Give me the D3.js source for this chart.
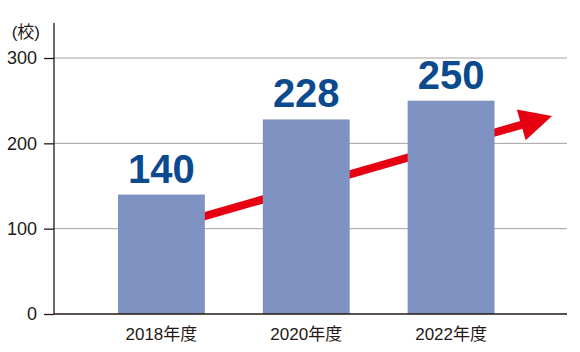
<!DOCTYPE html>
<html>
<head>
<meta charset="utf-8">
<script src="https://cdn.jsdelivr.net/npm/d3@7"></script>
<style>
  body { margin: 0; background: #fff; }
  text { font-family: "Liberation Sans", Arial, "Noto Sans CJK JP", sans-serif; }
</style>
</head>
<body>
<div id="chart"></div>
<script>
// data
var categories = ["2018年度", "2020年度", "2022年度"];
var values = [140, 228, 250];
var yTicks = [0, 100, 200, 300];
var unitLabel = "(校)";
// trend arrow, in data terms: starts at first category at value 100, ends at 232
var arrowStartValue = 100;
var arrowEndValue = 232;

function init() {
    var w = 580, h = 352;
    var left = 54, right = 567, top = 58, bottom = 314;

    var svg = d3.select("#chart")
                .append("svg")
                .attr("width", w)
                .attr("height", h);

    var xScale = d3.scaleBand()
                    .domain(categories)
                    .range([89, 523.5])
                    .paddingInner(0.4)
                    .paddingOuter(0.2);

    var yScale = d3.scaleLinear()
                    .domain([0, 300])
                    .range([bottom, top]);

    // gridlines
    svg.selectAll("line.grid")
        .data(yTicks.filter(function(d) { return d > 0; }))
        .enter()
        .append("line")
        .attr("class", "grid")
        .attr("x1", left)
        .attr("x2", right)
        .attr("y1", function(d) { return yScale(d); })
        .attr("y2", function(d) { return yScale(d); })
        .attr("stroke", "#a0a0a0")
        .attr("stroke-width", 1);

    // red trend arrow (behind the bars)
    var x0 = xScale(categories[0]) + xScale.bandwidth() / 2;
    var y0 = yScale(arrowStartValue);
    var x1 = right - 15;
    var y1 = yScale(arrowEndValue);
    var ang = Math.atan2(y1 - y0, x1 - x0);
    var headLen = 32, headHalf = 16;
    var ux = Math.cos(ang), uy = Math.sin(ang);
    var bx = x1 - headLen * ux, by = y1 - headLen * uy;

    svg.append("line")
        .attr("x1", x0).attr("y1", y0)
        .attr("x2", bx + 2 * ux).attr("y2", by + 2 * uy)
        .attr("stroke", "#e60012")
        .attr("stroke-width", 8);

    svg.append("polygon")
        .attr("points", [
            [x1, y1],
            [bx - headHalf * uy, by + headHalf * ux],
            [bx + headHalf * uy, by - headHalf * ux]
        ].map(function(p) { return p.join(","); }).join(" "))
        .attr("fill", "#e60012");

    // bars
    svg.selectAll("rect.bar")
        .data(values)
        .enter()
        .append("rect")
        .attr("class", "bar")
        .attr("x", function(d, i) { return xScale(categories[i]); })
        .attr("y", function(d) { return yScale(d); })
        .attr("width", xScale.bandwidth())
        .attr("height", function(d) { return yScale(0) - yScale(d); })
        .attr("fill", "#7f93c2");

    // value labels
    svg.selectAll("text.val")
        .data(values)
        .enter()
        .append("text")
        .attr("class", "val")
        .attr("x", function(d, i) { return xScale(categories[i]) + xScale.bandwidth() / 2; })
        .attr("y", function(d) { return yScale(d) - 12; })
        .attr("text-anchor", "middle")
        .attr("font-size", 40)
        .attr("font-weight", "bold")
        .attr("fill", "#0b4a8f")
        .text(function(d) { return d; });

    // y axis
    var yAxis = d3.axisLeft(yScale)
                    .tickValues(yTicks)
                    .tickSize(10)
                    .tickPadding(7);

    var gy = svg.append("g")
        .attr("transform", "translate(" + left + ",0)")
        .call(yAxis);
    gy.select(".domain").remove();
    gy.selectAll(".tick line").attr("stroke", "#231815").attr("stroke-width", 1.3);
    gy.selectAll(".tick text")
        .attr("font-size", 18)
        .attr("fill", "#231815")
        .attr("font-family", "Liberation Sans, Arial, sans-serif");

    svg.append("line")
        .attr("x1", left).attr("x2", left)
        .attr("y1", 23).attr("y2", bottom)
        .attr("stroke", "#231815")
        .attr("stroke-width", 1.3);

    // x axis
    var xAxis = d3.axisBottom(xScale).tickSize(0).tickPadding(14);
    var gx = svg.append("g")
        .attr("transform", "translate(0," + bottom + ")")
        .call(xAxis);
    gx.select(".domain").remove();
    gx.selectAll(".tick text")
        .attr("font-size", 17)
        .attr("fill", "#231815")
        .attr("font-family", "Liberation Sans, Arial, Noto Sans CJK JP, sans-serif");

    svg.append("line")
        .attr("x1", left).attr("x2", right)
        .attr("y1", bottom).attr("y2", bottom)
        .attr("stroke", "#231815")
        .attr("stroke-width", 1.3);

    // unit label
    svg.append("text")
        .attr("x", 40)
        .attr("y", 38)
        .attr("text-anchor", "end")
        .attr("font-size", 17)
        .attr("fill", "#231815")
        .attr("font-family", "Noto Sans CJK JP, sans-serif")
        .text(unitLabel);
}
window.onload = init;
</script>
</body>
</html>
